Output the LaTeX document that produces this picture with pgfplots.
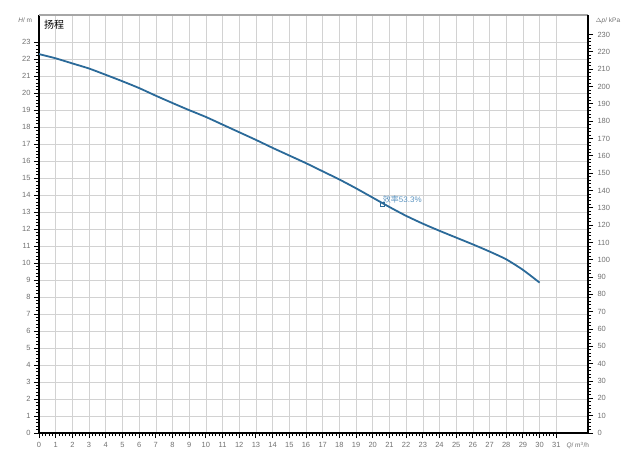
\documentclass[border=0pt]{standalone}
\usepackage{fontspec}
\setmainfont{Liberation Sans}
\newfontfamily\cjk{Noto Sans CJK SC}
\usepackage{pgfplots}
\pgfplotsset{compat=1.18}
\definecolor{curve}{HTML}{2B6A99}
\definecolor{lbl}{HTML}{5A93C0}
\definecolor{tlab}{HTML}{707070}
\begin{document}
\begin{tikzpicture}
\pgfplotsset{
  common/.style={
    at={(0,0)}, anchor=south west, scale only axis,
    width=549pt, height=418pt,
    xmin=0, xmax=32.9, clip=false,
    tick align=outside,
    major tick length=5pt, minor tick length=3pt,
    tick style={black, line width=0.9pt},
    minor tick style={black, line width=0.8pt},
    ticklabel style={font=\fontsize{7.5}{8}\selectfont, text=tlab},
    /pgf/number format/assume math mode=true,
  }
}
\begin{axis}[common,
  ymin=0, ymax=24.6,
  axis x line*=bottom, axis y line*=left,
  axis line style={black, line width=1.6pt, -},
  xtick={0,...,31}, ytick={0,...,23},
  minor x tick num=4, minor y tick num=4,
  grid=major, major grid style={gray!35, line width=0.6pt},
  xticklabel style={yshift=-1pt},
]
\addplot[curve, line width=1.8pt, smooth, tension=0.4] coordinates {
(0,22.3) (1,22.05) (2,21.75) (3,21.45) (4,21.08) (5,20.7) (6,20.3) (7,19.85)
(8,19.42) (9,19.0) (10,18.6) (11,18.15) (12,17.7) (13,17.25) (14,16.78)
(15,16.33) (16,15.88) (17,15.4) (18,14.92) (19,14.4) (20,13.85) (21,13.3)
(22,12.78) (23,12.32) (24,11.9) (25,11.5) (26,11.1) (27,10.68) (28,10.22)
(29,9.6) (30,8.85)
};
\addplot[curve, line width=0.8pt, only marks, mark=square, mark size=2pt] coordinates {(20.6,13.45)};
\node[anchor=south west, text=lbl, font=\fontsize{8}{9}\selectfont, inner sep=0pt] at (axis cs:20.6,13.5) {{\cjk 效率}53.3\%};
\node[anchor=north west, font=\cjk\fontsize{10}{11}\selectfont, inner sep=0pt] at (axis cs:0.3,24.3) {扬程};
\node[anchor=east, text=tlab, font=\fontsize{6.5}{7}\selectfont, inner sep=0pt] at (axis cs:-0.4,24.3) {\textit{H}/ m};
\node[anchor=west, text=tlab, font=\fontsize{6.5}{7}\selectfont, inner sep=0pt] at (axis cs:31.6,-0.75) {\textit{Q}/ m\textsuperscript{3}/h};
\draw[gray!70, line width=1.6pt] (axis cs:0,24.6) -- (axis cs:32.9,24.6);
\end{axis}
\begin{axis}[common,
  ymin=0, ymax=241.3,
  axis x line=none, axis y line*=right,
  axis line style={black, line width=1.2pt, -},
  ytick={0,10,...,230}, minor y tick num=4,
  yticklabel style={xshift=1pt},
]
\node[anchor=west, text=tlab, font=\fontsize{6.5}{7}\selectfont, inner sep=0pt] at (axis cs:33.35,238) {$\Delta$\textit{p}/ kPa};
\end{axis}
\path[use as bounding box] (-39pt,-31pt) rectangle (599pt,433pt);
\end{tikzpicture}
\end{document}
